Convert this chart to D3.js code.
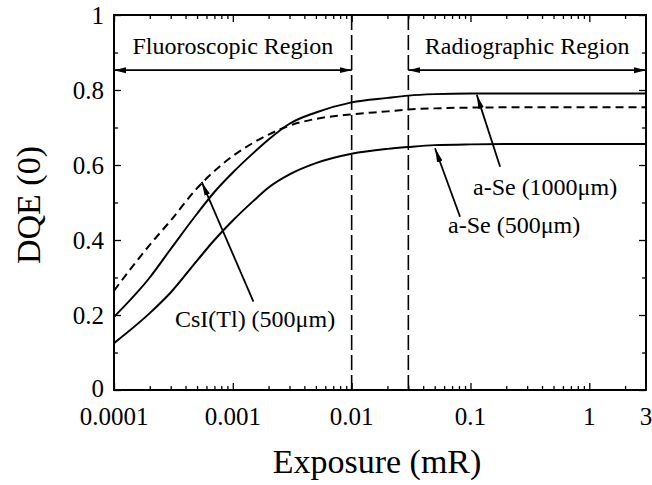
<!DOCTYPE html>
<html>
<head>
<meta charset="utf-8">
<script src="https://cdn.jsdelivr.net/npm/d3@7"></script>
<style>
  html, body { margin: 0; padding: 0; background: #fff; }
  svg { display: block; }
  text { font-family: "Liberation Serif", "Times New Roman", serif; fill: #000; }
</style>
</head>
<body>
<svg id="chart" width="652" height="485"></svg>
<script>
// Exposure grid (mR) and DQE(0) for each detector
const exposure    = [1e-4, 2e-4, 3e-4, 5e-4, 7e-4, 1e-3, 1.5e-3, 2e-3, 3e-3, 5e-3, 1e-2, 2e-2, 3e-2, 5e-2, 0.1, 0.3, 1, 3];
const dqeASe1000  = [0.195, 0.300, 0.376, 0.470, 0.528, 0.580, 0.633, 0.668, 0.710, 0.740, 0.767, 0.779, 0.785, 0.789, 0.791, 0.791, 0.791, 0.791];
const dqeCsI500   = [0.265, 0.387, 0.452, 0.538, 0.584, 0.624, 0.660, 0.681, 0.705, 0.723, 0.735, 0.743, 0.748, 0.751, 0.753, 0.754, 0.754, 0.754];
const dqeASe500   = [0.125, 0.205, 0.260, 0.345, 0.400, 0.452, 0.505, 0.540, 0.575, 0.605, 0.630, 0.643, 0.648, 0.653, 0.655, 0.656, 0.656, 0.656];

// Axis ticks and labels
const xMajorTicks = [1e-4, 1e-3, 1e-2, 1e-1, 1];
const xLabelValues = [1e-4, 1e-3, 1e-2, 0.1, 1, 3];
const xTickLabels = ["0.0001", "0.001", "0.01", "0.1", "1", "3"];
const yMajorTicks = [0, 0.2, 0.4, 0.6, 0.8, 1];
const yTickLabels = ["0", "0.2", "0.4", "0.6", "0.8", "1"];
const yMinorTicks = [0.1, 0.3, 0.5, 0.7, 0.9];

// Exposure regions
const regionNames = ["Fluoroscopic Region", "Radiographic Region"];
const regionStart = [1e-4, 0.03];
const regionEnd = [0.01, 3];
const regionLevel = 0.853;
const regionLabelLevel = 0.896;

// Curve labels with their pointer arrows (tail -> tip, in data units)
const curveLabels = ["a-Se (1000\u03bcm)", "a-Se (500\u03bcm)", "CsI(Tl) (500\u03bcm)"];
const labelAt = [[0.105, 0.52], [0.0648, 0.419], [3.26e-4, 0.168]];
const arrowTail = [[0.1776, 0.5955], [0.0817, 0.462], [1.49e-3, 0.2355]];
const arrowTip = [[0.113, 0.787], [0.0503, 0.6445], [5.47e-4, 0.555]];

const svg = d3.select("#chart");
const x = d3.scaleLog().domain([1e-4, 3]).range([114, 646]);
const y = d3.scaleLinear().domain([0, 1]).range([390, 15]);

svg.append("rect").attr("width", 652).attr("height", 485).attr("fill", "#fff");

// Arrowhead markers
const defs = svg.append("defs");
defs.append("marker")
  .attr("id", "head")
  .attr("markerUnits", "userSpaceOnUse")
  .attr("viewBox", "0 -4 12 8")
  .attr("refX", 12).attr("refY", 0)
  .attr("markerWidth", 12).attr("markerHeight", 8)
  .attr("orient", "auto-start-reverse")
  .append("path").attr("d", "M0,-3L12,0L0,3Z").attr("fill", "#000");
defs.append("marker")
  .attr("id", "pointer")
  .attr("markerUnits", "userSpaceOnUse")
  .attr("viewBox", "0 -4 14 8")
  .attr("refX", 14).attr("refY", 0)
  .attr("markerWidth", 14).attr("markerHeight", 8)
  .attr("orient", "auto")
  .append("path").attr("d", "M0,-2.8L14,0L0,2.8Z").attr("fill", "#000");

// Log minor ticks on the exposure axis
const xMinorTicks = [];
[1e-4, 1e-3, 1e-2, 1e-1, 1].forEach(d => {
  for (let k = 2; k <= 9; k++) { const v = k * d; if (v < 3) xMinorTicks.push(v); }
});

function tickGroup(axis, tx, ty) {
  const g = svg.append("g").attr("transform", `translate(${tx},${ty})`).call(axis);
  g.selectAll(".domain").remove();
  g.selectAll("text").remove();
  g.selectAll("line").attr("stroke", "#000").attr("stroke-width", 1.3);
  return g;
}
// Inward ticks on all four sides
tickGroup(d3.axisBottom(x).tickValues(xMajorTicks).tickSize(-7), 0, 390);
tickGroup(d3.axisBottom(x).tickValues(xMinorTicks).tickSize(-4), 0, 390);
tickGroup(d3.axisTop(x).tickValues(xMajorTicks).tickSize(-7), 0, 15);
tickGroup(d3.axisTop(x).tickValues(xMinorTicks).tickSize(-4), 0, 15);
tickGroup(d3.axisLeft(y).tickValues(yMajorTicks).tickSize(-7), 114, 0);
tickGroup(d3.axisLeft(y).tickValues(yMinorTicks).tickSize(-4), 114, 0);
tickGroup(d3.axisRight(y).tickValues(yMajorTicks).tickSize(-7), 646, 0);
tickGroup(d3.axisRight(y).tickValues(yMinorTicks).tickSize(-4), 646, 0);

// Frame
svg.append("rect")
  .attr("x", x(1e-4)).attr("y", y(1))
  .attr("width", x(3) - x(1e-4)).attr("height", y(0) - y(1))
  .attr("fill", "none").attr("stroke", "#000").attr("stroke-width", 2);

// Tick labels
svg.append("g").selectAll("text").data(xLabelValues).join("text")
  .attr("x", d => x(d)).attr("y", 425)
  .attr("text-anchor", "middle").attr("font-size", 25)
  .text((d, i) => xTickLabels[i]);
svg.append("g").selectAll("text").data(yMajorTicks).join("text")
  .attr("x", 104).attr("y", d => (d === 0 ? y(d) - 2 : y(d)))
  .attr("dy", "0.35em")
  .attr("text-anchor", "end").attr("font-size", 25)
  .text((d, i) => yTickLabels[i]);

// Region boundaries
[regionEnd[0], regionStart[1]].forEach(v => {
  svg.append("line")
    .attr("x1", x(v)).attr("x2", x(v)).attr("y1", y(1)).attr("y2", y(0))
    .attr("stroke", "#000").attr("stroke-width", 1.6).attr("stroke-dasharray", "15,5");
});

// Region spans with double-headed arrows
regionNames.forEach((name, i) => {
  svg.append("line")
    .attr("x1", x(regionStart[i])).attr("x2", x(regionEnd[i]))
    .attr("y1", y(regionLevel)).attr("y2", y(regionLevel))
    .attr("stroke", "#000").attr("stroke-width", 1.6)
    .attr("marker-start", "url(#head)").attr("marker-end", "url(#head)");
  const mid = Math.sqrt(regionStart[i] * regionEnd[i]);
  svg.append("text")
    .attr("x", x(mid)).attr("y", y(regionLabelLevel))
    .attr("text-anchor", "middle").attr("font-size", 24)
    .text(name);
});

// DQE curves
const line = d3.line()
  .x((d, i) => x(exposure[i]))
  .y(d => y(d))
  .curve(d3.curveMonotoneX);
svg.append("path").attr("d", line(dqeCsI500))
  .attr("fill", "none").attr("stroke", "#000").attr("stroke-width", 2)
  .attr("stroke-dasharray", "8,5");
svg.append("path").attr("d", line(dqeASe1000))
  .attr("fill", "none").attr("stroke", "#000").attr("stroke-width", 2);
svg.append("path").attr("d", line(dqeASe500))
  .attr("fill", "none").attr("stroke", "#000").attr("stroke-width", 2);

// Curve labels and pointers
curveLabels.forEach((t, i) => {
  svg.append("line")
    .attr("x1", x(arrowTail[i][0])).attr("y1", y(arrowTail[i][1]))
    .attr("x2", x(arrowTip[i][0])).attr("y2", y(arrowTip[i][1]))
    .attr("stroke", "#000").attr("stroke-width", 1.8)
    .attr("marker-end", "url(#pointer)");
  svg.append("text")
    .attr("x", x(labelAt[i][0])).attr("y", y(labelAt[i][1]))
    .attr("font-size", 24)
    .text(t);
});

// Axis titles
svg.append("text")
  .attr("x", 377).attr("y", 473)
  .attr("text-anchor", "middle").attr("font-size", 34)
  .text("Exposure (mR)");
svg.append("text")
  .attr("transform", "translate(40,205) rotate(-90)")
  .attr("text-anchor", "middle").attr("font-size", 34)
  .text("DQE (0)");
</script>
</body>
</html>
